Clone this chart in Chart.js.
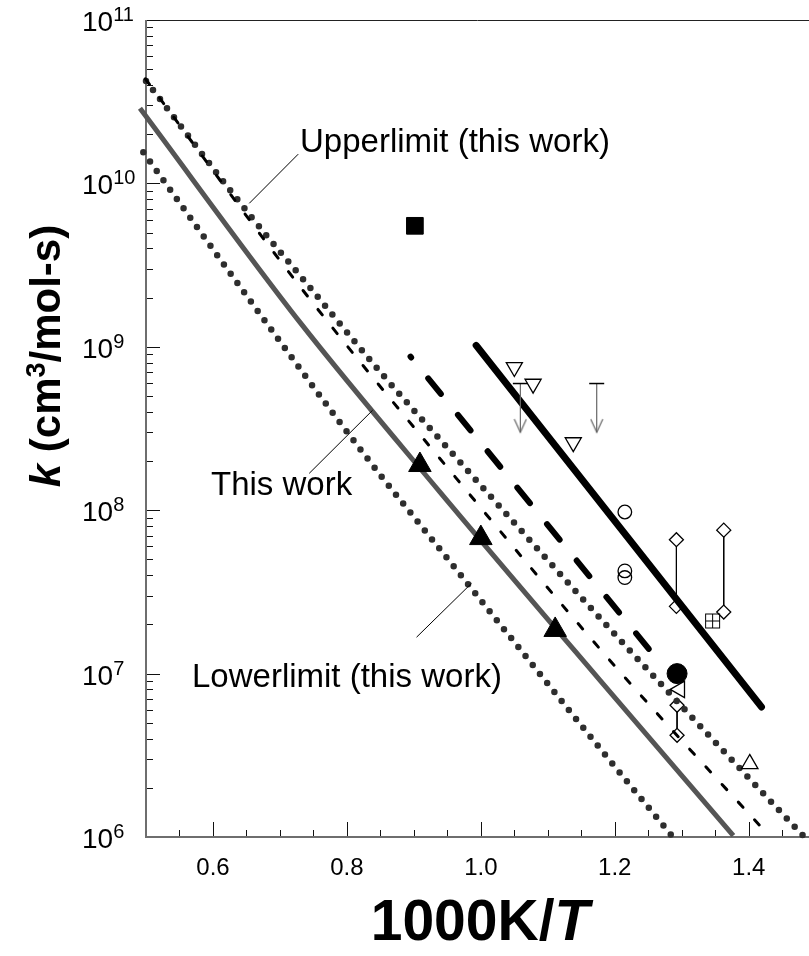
<!DOCTYPE html>
<html>
<head>
<meta charset="utf-8">
<script src="https://cdn.jsdelivr.net/npm/chart.js@4.4.1/dist/chart.umd.min.js"></script>
<style>
  html, body { margin: 0; padding: 0; background: #fff; overflow: hidden; }
  canvas { display: block; }
</style>
</head>
<body>
<canvas id="arrhenius" width="809" height="956" style="width:809px;height:956px"></canvas>
<script>
// axis ranges and tick labels
const xRange = [0.5, 1.49];
const yRange = [1e6, 1e11];
const xTickLabels = ['0.6', '0.8', '1.0', '1.2', '1.4'];
const yTickExponents = ['6', '7', '8', '9', '10', '11'];

// this work (grey solid) and its limits (dotted), 1000K/T vs k
const thisWorkX = [0.491, 0.730, 0.939, 1.178, 1.377];
const thisWorkK = [2.88e10, 1.41e9, 1.29e8, 9.08e6, 1.02e6];
const upperX = [0.500, 0.655, 0.735, 0.854, 0.941, 1.091, 1.180, 1.387, 1.483];
const upperK = [4.24e10, 6.4e9, 2.58e9, 6.7e8, 2.65e8, 5.43e7, 2.14e7, 2.62e6, 1.0e6];
const lowerX = [0.496, 0.655, 0.819, 0.964, 1.180, 1.285];
const lowerK = [1.55e10, 1.93e9, 2.39e8, 4.3e7, 3.4e6, 1.02e6];

// other evaluations
const thinDashX = [0.499, 0.732, 0.961, 1.197, 1.432];
const thinDashK = [4.37e10, 2.28e9, 1.61e8, 1.15e7, 1.0e6];
const thickDashX = [0.895, 1.265];
const thickDashK = [8.7e8, 1.2e7];
const thickSolidX = [0.993, 1.419];
const thickSolidK = [1.02e9, 6.25e6];

// measurements
const thisWorkPtsX = [0.909, 1.000, 1.111];
const thisWorkPtsK = [1.89e8, 6.75e7, 1.85e7];
const squareX = [0.9015];
const squareK = [5.5e9];
const downTriX = [1.050, 1.078, 1.138];
const downTriK = [7.5e8, 5.93e8, 2.6e8];
const openCircX = [1.215, 1.215, 1.215];
const openCircK = [9.75e7, 4.25e7, 3.87e7];
const diamondPairsX = [1.292, 1.3627, 1.293];
const diamondTopK = [6.6e7, 7.55e7, 6.4e6];
const diamondBotK = [2.58e7, 2.38e7, 4.19e6];
const gridSqX = [1.346];
const gridSqK = [2.1e7];
const filledCircX = [1.293];
const filledCircK = [1.0e7];
const leftTriX = [1.297];
const leftTriK = [8.0e6];
const upTriX = [1.4015];
const upTriK = [2.8e6];
// upper bounds (bar at the top, arrow pointing down)
const boundX = [1.059, 1.173];
const boundTopK = [5.96e8, 5.96e8];
const boundTipK = [3.0e8, 3.0e8];

// leader lines for the curve labels: [x0, k0, x1, k1]
const leaders = [
  { text: 'Upperlimit (this work)', line: [0.7273, 1.51e10, 0.6542, 7.55e9] },
  { text: 'This work', line: [0.7437, 1.68e8, 0.8384, 4.09e8] },
  { text: 'Lowerlimit (this work)', line: [0.904, 1.67e7, 0.9861, 3.57e7] }
];

const pts = (xs, ys) => xs.map((x, i) => ({ x: x, y: ys[i] }));

// small canvases used as point styles
function gridSquare() {
  const c = document.createElement('canvas');
  c.width = 17; c.height = 17;
  const g = c.getContext('2d');
  g.strokeStyle = '#000'; g.lineWidth = 1;
  g.strokeRect(1.5, 1.5, 14, 14);
  g.beginPath();
  g.moveTo(8.5, 1.5); g.lineTo(8.5, 15.5);
  g.moveTo(1.5, 8.5); g.lineTo(15.5, 8.5);
  g.stroke();
  return c;
}
function arrowHead() {
  const c = document.createElement('canvas');
  c.width = 14; c.height = 28;
  const g = c.getContext('2d');
  g.strokeStyle = '#666'; g.lineWidth = 1.2;
  g.beginPath();
  g.moveTo(1, 1); g.lineTo(7, 14); g.lineTo(13, 1);
  g.stroke();
  return c;
}

const FONT = '"Liberation Sans", Arial, Helvetica, sans-serif';

const axisDecor = {
  id: 'axisDecor',
  beforeDatasetsDraw(chart) {
    const { ctx, chartArea: a, scales: { x, y } } = chart;
    ctx.save();
    // top frame line
    ctx.strokeStyle = '#222';
    ctx.lineWidth = 1;
    ctx.beginPath();
    ctx.moveTo(a.left, a.top + 0.5);
    ctx.lineTo(a.right, a.top + 0.5);
    ctx.stroke();

    // inward ticks
    ctx.strokeStyle = '#111';
    ctx.lineWidth = 1;
    ctx.beginPath();
    for (let i = 11; i <= 29; i++) {
      const px = Math.round(x.getPixelForValue(i * 0.05)) + 0.5;
      const len = i % 4 === 0 ? 15 : 7;
      ctx.moveTo(px, a.bottom);
      ctx.lineTo(px, a.bottom - len);
    }
    for (let e = 6; e <= 10; e++) {
      for (let m = 1; m <= 9; m++) {
        const py = Math.round(y.getPixelForValue(m * Math.pow(10, e))) + 0.5;
        const len = m === 1 ? 14 : 7;
        ctx.moveTo(a.left, py);
        ctx.lineTo(a.left + len, py);
      }
    }
    const pTop = Math.round(y.getPixelForValue(1e11)) + 0.5;
    ctx.moveTo(a.left, pTop);
    ctx.lineTo(a.left + 14, pTop);
    ctx.stroke();

    // left and bottom axis lines
    ctx.strokeStyle = '#6e6e6e';
    ctx.lineWidth = 2;
    ctx.beginPath();
    ctx.moveTo(a.left, a.top);
    ctx.lineTo(a.left, a.bottom);
    ctx.lineTo(a.right, a.bottom);
    ctx.stroke();
    ctx.restore();
  },
  afterDraw(chart) {
    const { ctx, chartArea: a, scales: { x, y } } = chart;
    ctx.save();
    ctx.fillStyle = '#000';

    // x tick labels
    ctx.font = '24px ' + FONT;
    ctx.textAlign = 'center';
    ctx.textBaseline = 'alphabetic';
    xTickLabels.forEach(t => {
      ctx.fillText(t, x.getPixelForValue(parseFloat(t)), a.bottom + 38);
    });

    // y tick labels as powers of ten
    yTickExponents.forEach(ex => {
      const py = y.getPixelForValue(Math.pow(10, +ex));
      ctx.textAlign = 'left';
      ctx.font = '28px ' + FONT;
      const w = ctx.measureText('10').width;
      ctx.fillText('10', 82, py + 11);
      ctx.font = '20px ' + FONT;
      ctx.fillText(ex, 82 + w, py + 1);
    });

    // curve labels and their leader lines
    ctx.strokeStyle = '#000';
    ctx.lineWidth = 1;
    leaders.forEach(l => {
      const [x0, k0, x1, k1] = l.line;
      ctx.beginPath();
      ctx.moveTo(x.getPixelForValue(x0), y.getPixelForValue(k0));
      ctx.lineTo(x.getPixelForValue(x1), y.getPixelForValue(k1));
      ctx.stroke();
    });
    ctx.font = '33px ' + FONT;
    ctx.textAlign = 'left';
    ctx.fillText(leaders[0].text, 300, 152);
    ctx.fillText(leaders[1].text, 211, 495);
    ctx.fillText(leaders[2].text, 192, 687);

    // x axis title: 1000K/T
    const xt1 = '1000K/', xt2 = 'T';
    ctx.font = 'bold 57px ' + FONT;
    const w1 = ctx.measureText(xt1).width;
    ctx.font = 'italic bold 57px ' + FONT;
    const w2 = ctx.measureText(xt2).width;
    const sx = 480 - (w1 + w2) / 2;
    ctx.font = 'bold 57px ' + FONT;
    ctx.fillText(xt1, sx, 940);
    ctx.font = 'italic bold 57px ' + FONT;
    ctx.fillText(xt2, sx + w1, 940);

    // y axis title: k (cm3/mol-s), rotated
    const parts = [
      { t: 'k', f: 'italic bold 42px ' + FONT, dy: 0 },
      { t: ' (cm', f: 'bold 42px ' + FONT, dy: 0 },
      { t: '3', f: 'bold 27px ' + FONT, dy: -15 },
      { t: '/mol-s)', f: 'bold 42px ' + FONT, dy: 0 }
    ];
    let total = 0;
    parts.forEach(p => { ctx.font = p.f; p.w = ctx.measureText(p.t).width; total += p.w; });
    ctx.translate(60, 356);
    ctx.rotate(-Math.PI / 2);
    let px = -total / 2;
    parts.forEach(p => {
      ctx.font = p.f;
      ctx.fillText(p.t, px, p.dy);
      px += p.w;
    });
    ctx.restore();
  }
};

const ctx = document.getElementById('arrhenius').getContext('2d');
new Chart(ctx, {
  type: 'scatter',
  data: {
    datasets: [
      // filled symbols on top
      { data: pts(filledCircX, filledCircK), pointStyle: 'circle', pointRadius: 10,
        backgroundColor: '#000', borderColor: '#000', order: 0 },
      { data: pts(squareX, squareK), pointStyle: 'rect', pointRadius: 11.8,
        backgroundColor: '#000', borderColor: '#000', order: 0 },
      { data: pts(thisWorkPtsX, thisWorkPtsK), pointStyle: 'triangle', pointRadius: 13,
        backgroundColor: '#000', borderColor: '#000', order: 0 },
      // open symbols
      { data: pts(leftTriX, leftTriK), pointStyle: 'triangle', rotation: -90, pointRadius: 9.5,
        backgroundColor: 'rgba(255,255,255,0)', borderColor: '#000', borderWidth: 1.3, order: 1 },
      { data: pts(downTriX, downTriK), pointStyle: 'triangle', rotation: 180, pointRadius: 9.3,
        backgroundColor: 'rgba(255,255,255,0)', borderColor: '#000', borderWidth: 1.3, order: 1 },
      { data: pts(upTriX, upTriK), pointStyle: 'triangle', pointRadius: 9.5,
        backgroundColor: 'rgba(255,255,255,0)', borderColor: '#000', borderWidth: 1.3, order: 1 },
      { data: pts(openCircX, openCircK), pointStyle: 'circle', pointRadius: 6.8,
        backgroundColor: 'rgba(255,255,255,0)', borderColor: '#000', borderWidth: 1.3, order: 1 },
      { data: pts(gridSqX, gridSqK), pointStyle: gridSquare(), order: 1 },
      // upper bounds
      ...boundX.map((bx, i) => ({
        type: 'line',
        data: [{ x: bx, y: boundTopK[i] }, { x: bx, y: boundTipK[i] }],
        borderColor: '#666', borderWidth: 1.2,
        pointStyle: ['line', arrowHead()], pointRadius: [7.5, 7],
        pointBorderColor: ['#000', '#666'], pointBorderWidth: [1.5, 1],
        order: 1
      })),
      // evaluated lines
      { type: 'line', data: pts(thickSolidX, thickSolidK), borderColor: '#000', borderWidth: 7,
        borderCapStyle: 'round', pointRadius: 0, order: 2 },
      { type: 'line', data: pts(thickDashX, thickDashK), borderColor: '#000', borderWidth: 6,
        borderCapStyle: 'round', borderDash: [20, 27], borderDashOffset: 19, pointRadius: 0, order: 2 },
      { type: 'line', data: pts(thinDashX, thinDashK), borderColor: '#000', borderWidth: 3,
        borderCapStyle: 'round', borderDash: [7, 17], pointRadius: 0, cubicInterpolationMode: 'monotone',
        clip: false, order: 3 },
      { type: 'line', data: pts(upperX, upperK), borderColor: '#2e2e2e', borderWidth: 6.5,
        borderCapStyle: 'round', borderDash: [0, 11.5], pointRadius: 0, cubicInterpolationMode: 'monotone',
        clip: false, order: 3 },
      { type: 'line', data: pts(lowerX, lowerK), borderColor: '#2e2e2e', borderWidth: 6.5,
        borderCapStyle: 'round', borderDash: [0, 11.5], pointRadius: 0, cubicInterpolationMode: 'monotone',
        clip: false, order: 3 },
      { type: 'line', data: pts(thisWorkX, thisWorkK), borderColor: '#555', borderWidth: 5,
        pointRadius: 0, cubicInterpolationMode: 'monotone', clip: false, order: 3 },
      // diamond pairs joined by a thin line
      { data: pts(diamondPairsX, diamondTopK), pointStyle: 'rectRot', pointRadius: 7,
        backgroundColor: '#fff', borderColor: '#000', borderWidth: 1.3, order: 5 },
      { data: pts(diamondPairsX, diamondBotK), pointStyle: 'rectRot', pointRadius: 7,
        backgroundColor: '#fff', borderColor: '#000', borderWidth: 1.3, order: 5 },
      ...diamondPairsX.map((dx, i) => ({
        type: 'line',
        data: [{ x: dx, y: diamondTopK[i] }, { x: dx, y: diamondBotK[i] }],
        borderColor: '#000', borderWidth: 1, pointRadius: 0, order: 6
      }))
    ]
  },
  options: {
    responsive: false,
    animation: false,
    devicePixelRatio: 1,
    layout: { autoPadding: false, padding: { left: 146, top: 20, right: 0, bottom: 119 } },
    plugins: { legend: { display: false }, tooltip: { enabled: false } },
    scales: {
      x: { type: 'linear', min: xRange[0], max: xRange[1], display: false },
      y: { type: 'logarithmic', min: yRange[0], max: yRange[1], display: false }
    }
  },
  plugins: [axisDecor]
});
</script>
</body>
</html>
